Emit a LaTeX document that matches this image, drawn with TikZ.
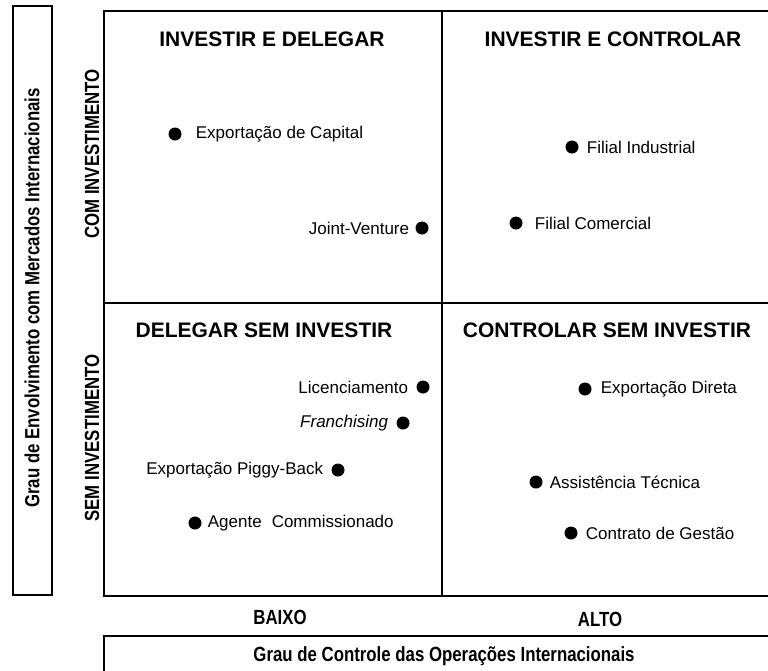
\documentclass[tikz,border=0pt]{standalone}
\usepackage{fontspec}
\setmainfont{Liberation Sans}
\newfontfamily\narrowfont[FakeStretch=0.82]{Liberation Sans}
\usetikzlibrary{positioning}

\tikzset{
	itemdot/.style={circle, fill=black, inner sep=0pt, minimum size=13pt},
	item/.style={font=\fontsize{17}{20}\selectfont, inner sep=0pt},
	quadtitle/.style={font=\fontsize{21}{25}\selectfont\bfseries, inner sep=0pt},
	axistext/.style={font=\narrowfont\bfseries\fontsize{20.5}{24}\selectfont, inner sep=0pt},
	boxline/.style={draw=black, line width=1.5pt},
}

\begin{document}
\begin{tikzpicture}[x=1pt, y=-1pt]
	
	\clip (0,0) rectangle (768,670);
	% frames
	\draw[boxline] (13,6) rectangle (52,595);
	\draw[boxline] (104,11) rectangle (790,596);
	\draw[boxline] (104,636) rectangle (790,700);
	\draw[boxline] (442,11) -- (442,596);
	\draw[boxline] (104,303) -- (790,303);
	
	% axis labels
	\node[axistext, rotate=90] (envolv) at (32,298) {Grau de Envolvimento com Mercados Internacionais};
	\node[axistext, rotate=90] (com) at (92,154) {COM INVESTIMENTO};
	\node[axistext, rotate=90] (sem) at (92,438) {SEM INVESTIMENTO};
	\node[axistext] (baixo) at (280,617) {BAIXO};
	\node[axistext] (alto) at (600,619) {ALTO};
	\node[axistext] (controle) at (444,656) {Grau de Controle das Operações Internacionais};
	
	% quadrant titles
	\node[quadtitle] (invdel) at (272,39) {INVESTIR E DELEGAR};
	\node[quadtitle] (invctl) at (613,39) {INVESTIR E CONTROLAR};
	\node[quadtitle] (delsem) at (264,330) {DELEGAR SEM INVESTIR};
	\node[quadtitle] (ctlsem) at (607,330) {CONTROLAR SEM INVESTIR};
	
	% investir e delegar
	\node[itemdot] (capdot) at (175,134) {};
	\node[item, right=14pt of capdot] (cap) {Exportação de Capital};
	\node[itemdot] (jvdot) at (422,228) {};
	\node[item, left=6pt of jvdot] (jv) {Joint-Venture};
	
	% investir e controlar
	\node[itemdot] (inddot) at (572,147) {};
	\node[item, right=8pt of inddot] (ind) {Filial Industrial};
	\node[itemdot] (comdot) at (516,223) {};
	\node[item, right=12pt of comdot] (comer) {Filial Comercial};
	
	% delegar sem investir
	\node[itemdot] (licdot) at (423,387) {};
	\node[item, left=8pt of licdot] (lic) {Licenciamento};
	\node[itemdot] (frdot) at (403,423) {};
	\node[item, left=8pt of frdot] (fr) {\itshape Franchising};
	\node[itemdot] (pigdot) at (338,470) {};
	\node[item, left=8pt of pigdot] (pig) {Exportação Piggy-Back};
	\node[itemdot] (agdot) at (195,523) {};
	\node[item, right=6pt of agdot] (ag) {Agente\hspace{10pt}Commissionado};
	
	% controlar sem investir
	\node[itemdot] (dirdot) at (585,389) {};
	\node[item, right=9pt of dirdot] (dir) {Exportação Direta};
	\node[itemdot] (tecdot) at (536,482) {};
	\node[item, right=7pt of tecdot] (tec) {Assistência Técnica};
	\node[itemdot] (gesdot) at (571,533) {};
	\node[item, right=8pt of gesdot] (ges) {Contrato de Gestão};
	
\end{tikzpicture}
\end{document}
